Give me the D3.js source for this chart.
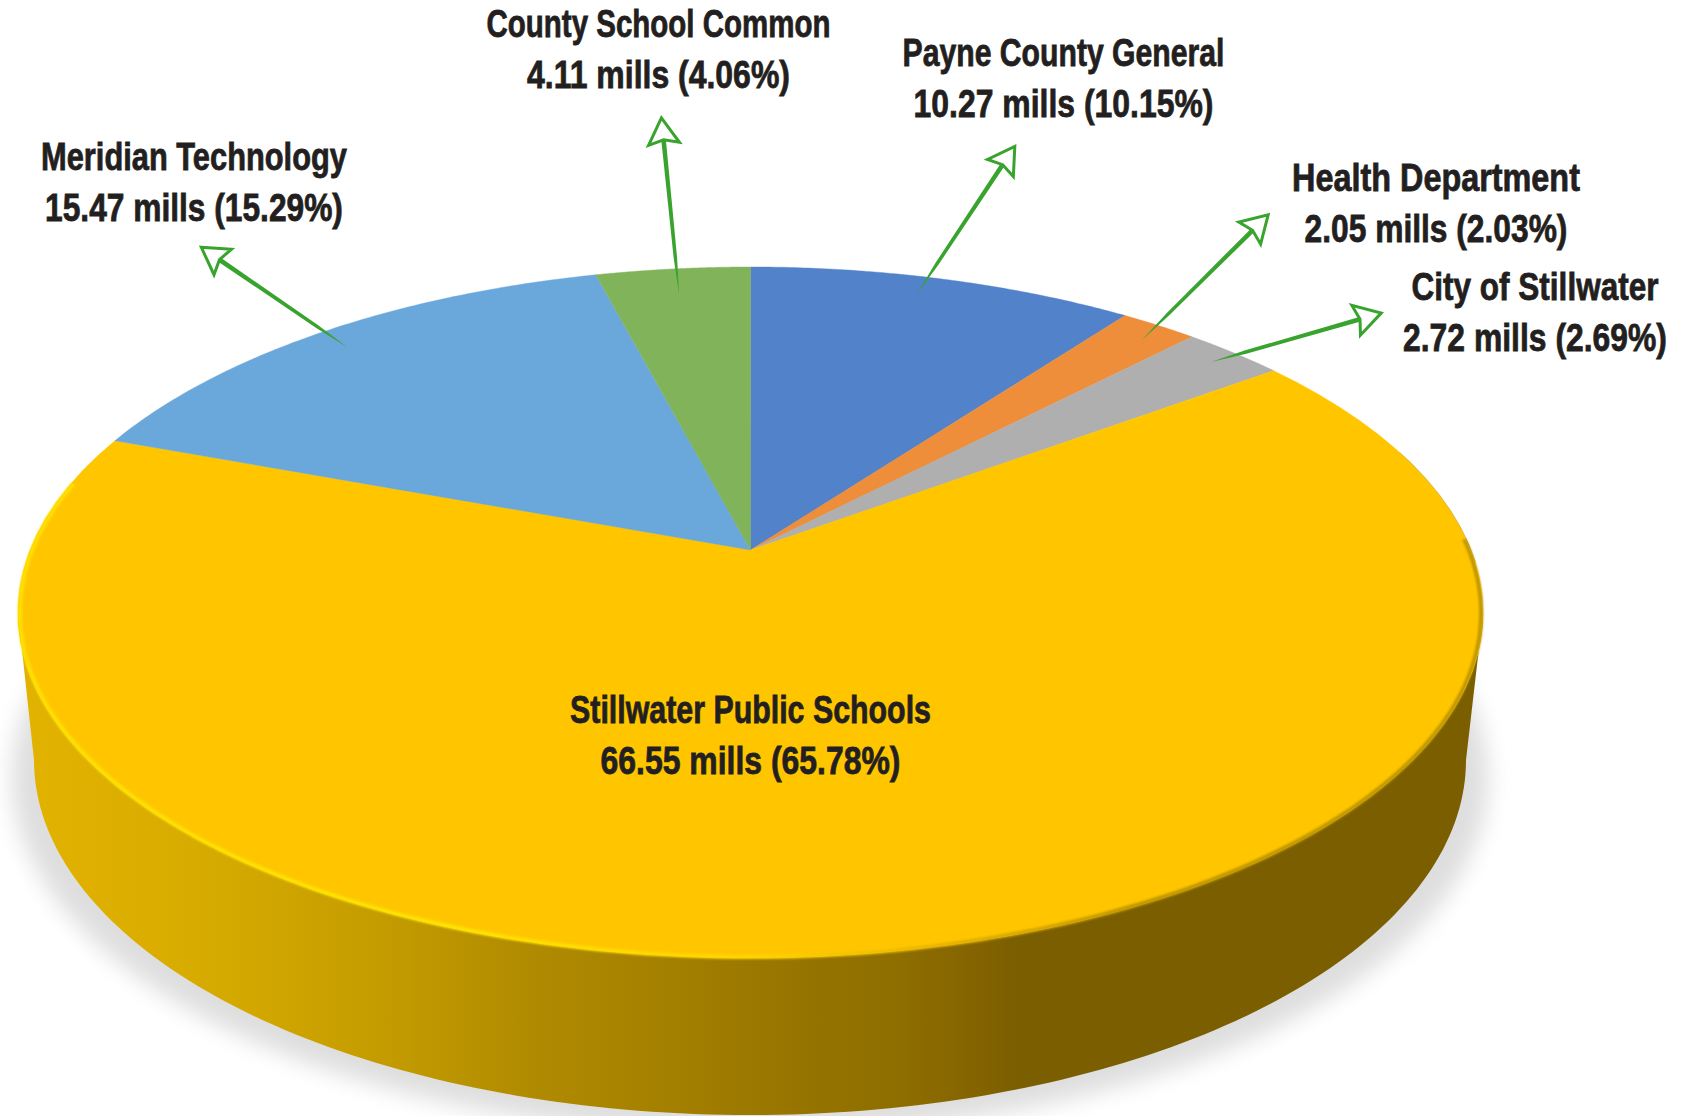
<!DOCTYPE html>
<html><head><meta charset="utf-8">
<script src="https://cdn.jsdelivr.net/npm/d3@7/dist/d3.min.js"></script>
<style>html,body{margin:0;padding:0;background:#fff}svg{display:block}</style>
</head><body><script>
// Data
const categories=["Payne County General","Health Department","City of Stillwater","Stillwater Public Schools","Meridian Technology","County School Common"];
const mills=[10.27,2.05,2.72,66.55,15.47,4.11];
const percents=[10.15,2.03,2.69,65.78,15.29,4.06];
const colors=["#5182CA","#EE8E3A","#AFAFAF","#FFC600","#6AA7DB","#81B35B"];
// Layout of labels: centre x, first baseline, width of line 1, width of line 2
const labelX=[1063.5,1436,1535,750.5,194,658.5];
const labelY=[66,190.5,299.5,722.5,169.5,37];
const labelW1=[322,288,247,361,306,344];
const labelW2=[300,263,264,300,298,263];
// Callout arrows: tail and tip (null = label sits on the slice)
const arrowTail=[[917,294],[1142,340],[1211,362],null,[347,347],[679,294]];
const arrowTip=[[1017,143],[1271,212],[1385,312],null,[198,245],[661,114]];
const sideStops=[[0,"#e2b200"],[.067,"#dcae00"],[.137,"#d4a900"],[.2,"#cba100"],[.256,"#c29a00"],[.35,"#b08a00"],[.443,"#a48000"],[.535,"#967400"],[.605,"#8e6e00"],[.657,"#846400"],[.686,"#7a5e00"],[1,"#7a5e00"]];

const W=1687,H=1116;
const svg=d3.select("body").append("svg").attr("width",W).attr("height",H).attr("viewBox",[0,0,W,H]);
const defs=svg.append("defs");
const blur=(id,s)=>defs.append("filter").attr("id",id).attr("x","-10%").attr("y","-10%").attr("width","120%").attr("height","120%")
  .append("feGaussianBlur").attr("stdDeviation",s);
blur("b12",11);blur("b1",1.2);
const sg=defs.append("linearGradient").attr("id","side").attr("gradientUnits","userSpaceOnUse").attr("x1",34).attr("x2",1466).attr("y1",0).attr("y2",0);
sideStops.forEach(s=>sg.append("stop").attr("offset",s[0]).attr("stop-color",s[1]));
const rg=defs.append("linearGradient").attr("id","rim").attr("gradientUnits","userSpaceOnUse").attr("x1",17).attr("x2",1485).attr("y1",0).attr("y2",0);
[[0,"#ffe000"],[.3,"#ffe400"],[.5,"#ffd400"],[.62,"#eab600"],[.76,"#c09600"],[1,"#c09600"]].forEach(s=>rg.append("stop").attr("offset",s[0]).attr("stop-color",s[1]));

// Perspective projection of the pie's unit circle on the page
const k=-0.1809;
const sx=d3.scaleLinear().domain([-1,1]).range([750.5-720.5,750.5+720.5]);
const sy=d3.scaleLinear().domain([-1,1]).range([550-334.2,550+334.2]);
const proj=a=>{const u=Math.sin(a),v=-Math.cos(a),d=1+k*v;return [sx(u/d),sy(v/d)];};
// The bevel runs just inside the rim of the top face
const rimX=d3.scaleLinear().domain([18,1483]).range([20,1481]);
const rimY=d3.scaleLinear().domain([266,958]).range([268,957]);
const rimProj=a=>{const p=proj(a);return [rimX(p[0]),rimY(p[1])];};
// Lower disc
const bx=d3.scaleLinear().domain([-1,1]).range([750-716,750+716]);
const by=d3.scaleLinear().domain([-1,1]).range([760-355,760+355]);
const low=a=>[bx(Math.sin(a)),by(-Math.cos(a))];
const line=d3.line();
const arcPts=(f,a0,a1,n=160)=>d3.range(n+1).map(i=>f(a0+(a1-a0)*i/n));
const rad=d=>d*Math.PI/180;

// Shadow
const shx=d3.scaleLinear().domain([-1,1]).range([750-738,750+738]);
const shy=d3.scaleLinear().domain([-1,1]).range([778-356,778+356]);
svg.append("path").attr("d",line(arcPts(a=>[shx(Math.sin(a)),shy(-Math.cos(a))],0,2*Math.PI))+"Z")
  .attr("fill","#dedede").attr("filter","url(#b12)");

// Side wall
const a0=Math.acos(k),a1=2*Math.PI-a0;
const topEdge=arcPts(proj,a0,a1);
const lowEdge=arcPts(low,rad(270),rad(90));
svg.append("path").attr("d",line(topEdge.concat(lowEdge))+"Z").attr("fill","url(#side)");

// Top slices
const pie=d3.pie().sort(null).value(d=>d);
const arcs=pie(percents);
const centre=[sx(0),sy(0)];
svg.append("g").selectAll("path").data(arcs).join("path")
  .attr("d",d=>line([centre].concat(arcPts(proj,d.startAngle,d.endAngle,80)))+"Z")
  .attr("fill",(d,i)=>colors[i]).attr("stroke",(d,i)=>colors[i]).attr("stroke-width",.4);

// Bevel on the rim
svg.append("path").attr("d",line(arcPts(rimProj,rad(88),rad(282),200))).attr("fill","none")
  .attr("stroke","url(#rim)").attr("stroke-width",4).attr("filter","url(#b1)");
svg.append("path").attr("d",line(arcPts(proj,rad(72),rad(92),60))).attr("fill","none")
  .attr("stroke","#7a6a10").attr("stroke-width",1).attr("opacity",.3);

// Arrows
const green="#38a32d";
const ag=svg.append("g");
percents.forEach((p,i)=>{
  const t=arrowTail[i],h=arrowTip[i];
  if(!t)return;
  const dx=h[0]-t[0],dy=h[1]-t[1],L=Math.hypot(dx,dy),ux=dx/L,uy=dy/L,nx=-uy,ny=ux;
  const at=(b,s)=>[h[0]-ux*b+nx*s,h[1]-uy*b+ny*s];
  ag.append("path").attr("d",line([t,at(L*.8,1.7),at(27,2.3),at(27,-2.3),at(L*.8,-1.7)])+"Z").attr("fill",green);
  ag.append("path").attr("d",line([at(4,0),at(30,15.5),at(26,0),at(30,-15.5)])+"Z")
    .attr("fill","none").attr("stroke",green).attr("stroke-width",3).attr("stroke-linejoin","miter").attr("stroke-miterlimit",8);
});

// Labels: each line is squeezed horizontally to the condensed width of the original type
const tg=svg.append("g").attr("font-family","'Liberation Sans Narrow','Liberation Sans',sans-serif")
  .attr("font-weight",700).attr("font-size",39).attr("fill","#231f20").attr("text-anchor","middle")
  .attr("stroke","#231f20").attr("stroke-width",.8);
const putLine=(s,x,y,w)=>{
  const t=tg.append("text").text(s);
  const n=t.node().getComputedTextLength();
  t.attr("transform",`translate(${x},${y}) scale(${w/n},1)`);
};
categories.forEach((c,i)=>{
  putLine(c,labelX[i],labelY[i],labelW1[i]);
  putLine(`${mills[i].toFixed(2)} mills (${percents[i].toFixed(2)}%)`,labelX[i],labelY[i]+51.2,labelW2[i]);
});
</script></body></html>
